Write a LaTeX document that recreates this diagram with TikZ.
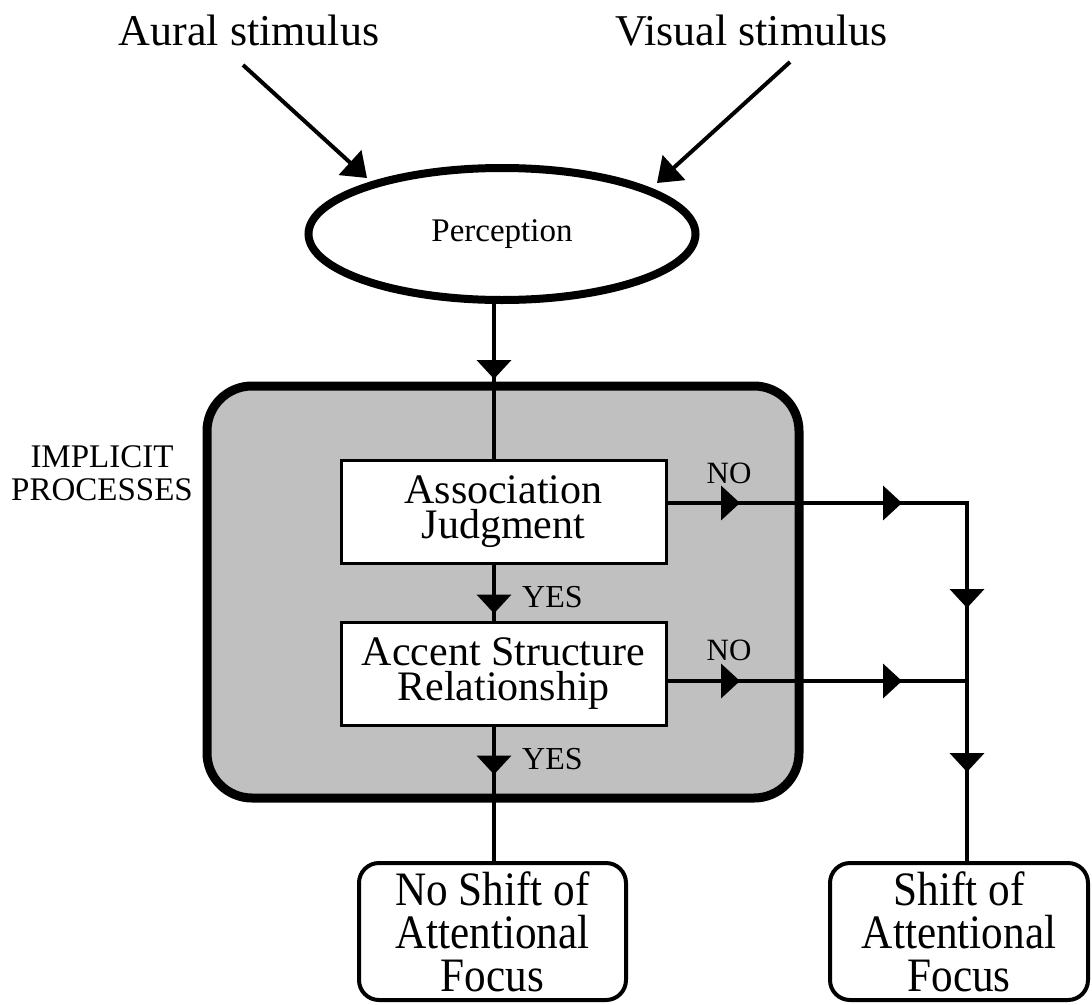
\documentclass[tikz,border=0pt]{standalone}
\usepackage{fontspec}
\setmainfont{Liberation Serif}
\newfontfamily\condserif{Liberation Serif}[FakeStretch=0.9]
\usetikzlibrary{arrows.meta,shapes.geometric,decorations.markings}
\definecolor{graybg}{RGB}{192,192,192}
\tikzset{
  tri/.tip={Triangle[width=34pt,length=19pt]},
  bigtri/.tip={Triangle[width=33pt,length=23pt]},
  conn/.style={line width=4pt},
  whitebox/.style={draw, line width=3pt, fill=white, minimum width=325pt, minimum height=103pt,
    inner sep=0pt, align=center, font=\fontsize{42}{35.5}\selectfont},
  endbox/.style={draw, line width=4pt, fill=white, rounded corners=20pt, minimum height=137pt,
    inner sep=0pt, align=center, font=\condserif\fontsize{48}{43}\selectfont},
  lbl/.style={inner sep=0pt, font=\fontsize{31}{33}\selectfont},
}
\begin{document}
\begin{tikzpicture}[x=1pt,y=-1pt]
\useasboundingbox (0,0) rectangle (1092,1004);

% titles
\node[anchor=base, inner sep=0pt, font=\fontsize{44}{50}\selectfont] (aural) at (249,45) {Aural stimulus};
\node[anchor=base, inner sep=0pt, font=\fontsize{44}{50}\selectfont] (visual) at (751.5,45) {Visual stimulus};

% implicit box
\node[draw, line width=9pt, fill=graybg, rounded corners=45pt, minimum width=592pt,
      minimum height=412pt, inner sep=0pt] (implicit) at (503,592) {};
\node[lbl, align=center, font=\fontsize{33}{33}\selectfont] (impl) at (102,473) {IMPLICIT\\PROCESSES};

% perception
\node[ellipse, draw, line width=8pt, fill=white, minimum width=387pt, minimum height=132pt,
      inner sep=0pt, font=\fontsize{33}{36}\selectfont] (perc) at (502,234) {Perception};

% boxes
\node[whitebox] (assoc) at (503.5,511.5) {Association\\Judgment};
\node[whitebox] (accent) at (503.5,673.5) {Accent Structure\\Relationship};
\node[endbox, minimum width=267pt] (noshift) at (492.5,931.5) {No Shift of\\Attentional\\Focus};
\node[endbox, minimum width=258pt] (shift) at (959,931.5) {Shift of\\Attentional\\Focus};

% stimulus arrows
\coordinate (as) at (243,65);
\coordinate (at) at (367,178);
\coordinate (vs) at (790,62);
\coordinate (vt) at (657,183);
\draw[conn,-{bigtri}] (as) -- (at);
\draw[conn,-{bigtri}] (vs) -- (vt);

% main vertical chain
\coordinate (cx) at (494,300);
\draw[conn, postaction={decorate}, decoration={markings, mark=at position 75pt with {\arrow{tri}}}]
  (cx |- perc.south) -- (cx |- assoc.north);
\draw[conn, postaction={decorate}, decoration={markings, mark=at position 49pt with {\arrow{tri}}}]
  (cx |- assoc.south) -- (cx |- accent.north);
\draw[conn, postaction={decorate}, decoration={markings, mark=at position 48pt with {\arrow{tri}}}]
  (cx |- accent.south) -- (cx |- noshift.north);

% NO branches
\coordinate (n1) at (666,503);
\coordinate (n2) at (666,681);
\coordinate (r1) at (967,503);
\coordinate (r2) at (967,681);
\draw[conn, postaction={decorate}, decoration={markings,
    mark=at position 74pt with {\arrow{tri}},
    mark=at position 236pt with {\arrow{tri}},
    mark=at position 406pt with {\arrow{tri}},
    mark=at position 570pt with {\arrow{tri}}}]
  (n1) -- (r1) -- (r1 |- shift.north);
\draw[conn, postaction={decorate}, decoration={markings,
    mark=at position 74pt with {\arrow{tri}},
    mark=at position 236pt with {\arrow{tri}}}]
  (n2) -- (r2);

% labels
\node[lbl, anchor=base] (no1) at (729,483) {NO};
\node[lbl, anchor=base] (no2) at (729,660) {NO};
\node[lbl, anchor=base west, font=\fontsize{32}{34}\selectfont] (yes1) at (522,607) {YES};
\node[lbl, anchor=base west, font=\fontsize{32}{34}\selectfont] (yes2) at (522,769) {YES};
\end{tikzpicture}
\end{document}
